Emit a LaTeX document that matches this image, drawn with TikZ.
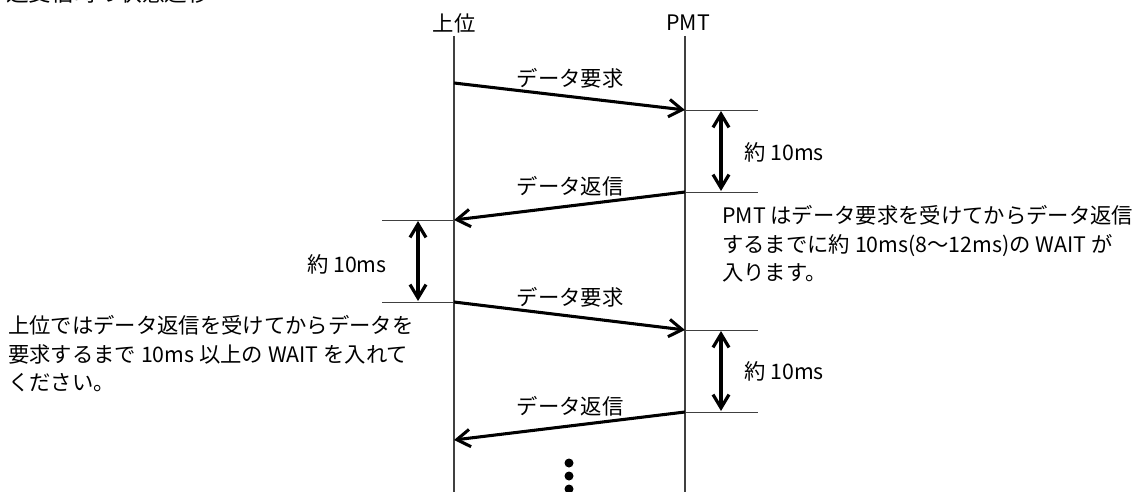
\documentclass[tikz,border=0pt]{standalone}
\usepackage{fontspec}
\setmainfont{Noto Sans CJK JP}
\usetikzlibrary{arrows.meta}
\tikzset{
  life/.style={line width=0.8pt, black!75},
  tick/.style={line width=0.6pt, black!75},
  msg/.style={line width=2.3pt, -{Straight Barb[length=10pt,width=13pt]}},
  gap/.style={line width=2.4pt, {Straight Barb[length=10pt,width=12pt]}-{Straight Barb[length=10pt,width=12pt]}},
  lbl/.style={inner sep=0pt, font=\fontsize{16pt}{21.5pt}\selectfont},
}
\begin{document}
\begin{tikzpicture}[x=0.75pt, y=-0.75pt]
      \useasboundingbox (0,0) rectangle (1138,492);
      % title, cut at the top edge
      \node[lbl, anchor=base west, font=\fontsize{17pt}{20pt}\selectfont] (title) at (6,2) {送受信時の状態遷移};
      % lifelines
      \node[lbl] (host) at (454,23) {上位};
      \node[lbl] (pmt) at (688,23) {PMT};
      \coordinate (bottom) at (0,492);
      \draw[life] (454,36) coordinate (hosttop) -- (hosttop |- bottom);
      \draw[life] (685,36) coordinate (pmttop) -- (pmttop |- bottom);
      % message ends
      \coordinate (h1) at (454,83);
      \coordinate (p1) at (685,110);
      \coordinate (p2) at (685,192);
      \coordinate (h2) at (454,220);
      \coordinate (h3) at (454,302);
      \coordinate (p3) at (685,330);
      \coordinate (p4) at (685,412);
      \coordinate (h4) at (454,440);
      % tick ends
      \coordinate (r1) at (758,110);
      \coordinate (r2) at (758,192);
      \coordinate (l2) at (382,220);
      \coordinate (l3) at (382,302);
      \coordinate (r3) at (758,330);
      \coordinate (r4) at (758,412);
      \begin{scope}[tick]
        \draw (p1) -- (r1);
        \draw (p2) -- (r2);
        \draw (l2) -- (h2);
        \draw (l3) -- (h3);
        \draw (p3) -- (r3);
        \draw (p4) -- (r4);
      \end{scope}
      \begin{scope}[msg]
        \draw (h1) -- (p1);
        \draw (p2) -- (h2);
        \draw (h3) -- (p3);
        \draw (p4) -- (h4);
      \end{scope}
      \node[lbl] (req1) at (570,78) {データ要求};
      \node[lbl] (ret1) at (570,186) {データ返信};
      \node[lbl] (req2) at (570,297) {データ要求};
      \node[lbl] (ret2) at (570,406) {データ返信};
      % waiting times
      \coordinate (g1a) at (721,111);
      \coordinate (g1b) at (721,191);
      \coordinate (g2a) at (418,221);
      \coordinate (g2b) at (418,301);
      \coordinate (g3a) at (721,331);
      \coordinate (g3b) at (721,411);
      \begin{scope}[gap]
        \draw (g1a) -- (g1b);
        \draw (g2a) -- (g2b);
        \draw (g3a) -- (g3b);
      \end{scope}
      \node[lbl, anchor=west] (wait1) at (744,152) {約 10ms};
      \node[lbl, anchor=east] (wait2) at (387,264) {約 10ms};
      \node[lbl, anchor=west] (wait3) at (744,371) {約 10ms};
      % notes
      \node[lbl, anchor=north west, align=left] (pmtnote) at (722,205)
        {PMT はデータ要求を受けてからデータ返信\\するまでに約 10ms(8～12ms)の WAIT が\\入ります。};
      \node[lbl, anchor=north west, align=left] (hostnote) at (8,315)
        {上位ではデータ返信を受けてからデータを\\要求するまで 10ms 以上の WAIT を入れて\\ください。};
      % continued
      \fill (569,463) circle (4.5);
      \fill (569,476) circle (4.5);
      \fill (569,489) circle (4.5);
    \end{tikzpicture}
\end{document}
